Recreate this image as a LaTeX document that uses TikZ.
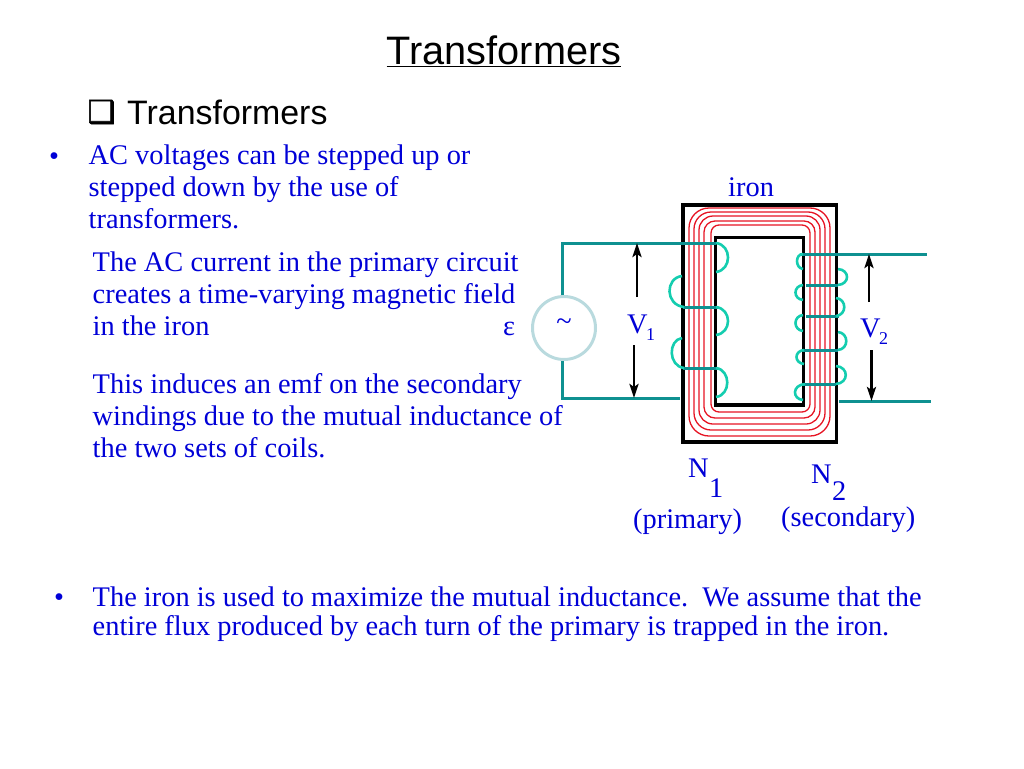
\documentclass[tikz,border=0pt]{standalone}
\usepackage{fontspec}
\setmainfont{Liberation Serif}
\newfontfamily\arialfont{Liberation Sans}
\newfontfamily\dejafont{DejaVu Sans}
\usetikzlibrary{
	arrows.meta,    % punte delle frecce
	positioning
}
\definecolor{bluetext}{RGB}{0,0,215}
\definecolor{wireteal}{RGB}{15,145,145}
\definecolor{loopteal}{RGB}{20,205,175}
\definecolor{ironred}{RGB}{230,20,35}
\definecolor{emfring}{RGB}{185,218,222}
\tikzset{
	bodytext/.style={inner sep=0pt, anchor=base west, align=left, text=bluetext, font=\fontsize{28.4}{32}\selectfont},
	smalltext/.style={bodytext, font=\fontsize{28.4}{29}\selectfont},
	wire/.style={draw=wireteal, line width=3pt},
	coilloop/.style={draw=loopteal, line width=2.6pt},
	ironcore/.style={draw=black, line width=3.2pt},
	fieldline/.style={draw=ironred, line width=1.3pt},
	voltarrow/.style={draw=black, line width=2.8pt, -{Stealth[length=14pt,width=9pt,inset=3pt]}}
}
\begin{document}
\begin{tikzpicture}[x=1pt, y=-1pt]
	\useasboundingbox (0,0) rectangle (1024,768);
	% --- Titoli ---
	\node[inner sep=0pt, anchor=base] (title) at (504,64.5) {\arialfont\fontsize{39.7}{44}\selectfont\underline{Transformers}};
	\node[inner sep=0pt, anchor=base west, font=\fontsize{33.9}{38}\selectfont] (subtitle) at (127,124) {\arialfont Transformers};
	\node[inner sep=0pt, anchor=base east, font=\fontsize{31}{36}\selectfont] (subbox) at (115.5,122.5) {\dejafont\addfontfeature{FakeBold=2}❑};
	
	% --- Testo ---
	\node[bodytext] (bulA) at (49,165.5) {•};
	\node[bodytext] (voltages) at (88.5,228.5) {AC voltages can be stepped up or\\stepped down by the use of\\transformers.};
	\node[bodytext] (current) at (92.5,335.5) {The AC current in the primary circuit\\creates a time-varying magnetic field\\in the iron};
	\node[bodytext] (induces) at (92.5,457.5) {This induces an emf on the secondary\\windings due to the mutual inductance of\\the two sets of coils.};
	\node[bodytext] (bulB) at (54,606.5) {•};
	\node[smalltext] (maximize) at (92.5,635.5) {The iron is used to maximize the mutual inductance.~~We assume that the\\entire flux produced by each turn of the primary is trapped in the iron.};
	
	% --- Nucleo di ferro ---
	\draw[ironcore] (683,205) rectangle (836.5,442);
	\draw[ironcore] (715.5,237.5) rectangle (803.5,405);
	\draw[fieldline, rounded corners=20pt] (689,208) rectangle (830,436);
	\draw[fieldline, rounded corners=17pt] (694,212) rectangle (825,430);
	\draw[fieldline, rounded corners=14pt] (699,216) rectangle (820,424);
	\draw[fieldline, rounded corners=11pt] (704,221) rectangle (815,418);
	\draw[fieldline, rounded corners=8pt] (711,225) rectangle (810,412);
	
	% --- Generatore ---
	\node[circle, draw=emfring, line width=3pt, minimum size=63pt, inner sep=0pt, text=bluetext, font=\fontsize{28.4}{30}\selectfont] (source) at (564,328) {\raisebox{-5pt}{\smash{\~{}}}};
	\node[bodytext] (emf) at (503,335.5) {ε};
	
	% --- Circuito primario ---
	\coordinate (primtopL) at (562,243);
	\coordinate (primtopR) at (716,243);
	\coordinate (primbotL) at (562,398);
	\coordinate (primbotR) at (680,398);
	\draw[wire] (source.north -| primtopL) -- (primtopL) -- (primtopR);
	\draw[wire] (source.south -| primbotL) -- (primbotL) -- (primbotR);
	\draw[wire] (683,307) -- (718,307);
	\draw[wire] (683,368) -- (718,368);
	\draw[coilloop] (716,243) .. controls (732,245) and (732,270) .. (716,272);
	\draw[coilloop] (716,307) .. controls (732,309) and (732,333) .. (716,335);
	\draw[coilloop] (716,368) .. controls (731,370) and (731,395) .. (716,397);
	\draw[coilloop] (682,276) .. controls (665,278) and (665,305) .. (684,307);
	\draw[coilloop] (682,338) .. controls (668,340) and (668,366) .. (684,368);
	
	% --- Circuito secondario ---
	\coordinate (sectopL) at (800,254);
	\coordinate (sectopR) at (927,254);
	\coordinate (secbotL) at (839,401);
	\coordinate (secbotR) at (931,401);
	\draw[wire] (sectopL) -- (sectopR);
	\draw[wire] (secbotL) -- (secbotR);
	\draw[wire] (806,285.5) -- (838,285.5);
	\draw[wire] (806,316.5) -- (839,316.5);
	\draw[wire] (803,350) -- (838,350);
	\draw[wire] (803,384) -- (836,384);
	\draw[coilloop] (803,254) .. controls (795,254) and (795,268) .. (803,269);
	\draw[coilloop] (803,285) .. controls (793,286) and (793,299) .. (803,300);
	\draw[coilloop] (803,315) .. controls (793,316) and (793,330) .. (803,331);
	\draw[coilloop] (804,350) .. controls (794,351) and (794,363) .. (804,364);
	\draw[coilloop] (805,384) .. controls (792,385) and (792,399) .. (803,400);
	\draw[coilloop] (838,269) .. controls (850,270) and (850,284) .. (838,285);
	\draw[coilloop] (836,298) .. controls (847,299) and (847,315) .. (836,316);
	\draw[coilloop] (838,332) .. controls (849,333) and (849,349) .. (838,350);
	\draw[coilloop] (836,366) .. controls (849,367) and (849,383) .. (836,384);
	
	% --- Tensioni ---
	\node[bodytext] (Vone) at (627,333) {V};
	\node[bodytext, font=\fontsize{18}{20}\selectfont] (Vonesub) at (646,340) {1};
	\node[bodytext] (Vtwo) at (860,337) {V};
	\node[bodytext, font=\fontsize{18}{20}\selectfont] (Vtwosub) at (879,344) {2};
	\coordinate (Voneup) at (637,297);
	\coordinate (Vonedown) at (634,345);
	\coordinate (Vtwoup) at (869,302);
	\coordinate (Vtwodown) at (871.5,350);
	\draw[voltarrow] (Voneup) -- (Voneup |- primtopL);
	\draw[voltarrow] (Vonedown) -- (Vonedown |- primbotL);
	\draw[voltarrow] (Vtwoup) -- (Vtwoup |- sectopL);
	\draw[voltarrow] (Vtwodown) -- (Vtwodown |- secbotL);
	
	% --- Etichette ---
	\node[bodytext] (iron) at (728,196) {iron};
	\node[bodytext] (Nprim) at (688,477) {N};
	\node[bodytext] (Nprimsub) at (709,497) {1};
	\node[bodytext] (Nsec) at (811,483) {N};
	\node[bodytext] (Nsecsub) at (832,500) {2};
	\node[bodytext] (primary) at (633,528) {(primary)};
	\node[bodytext] (secondary) at (781,526) {(secondary)};
\end{tikzpicture}
\end{document}
